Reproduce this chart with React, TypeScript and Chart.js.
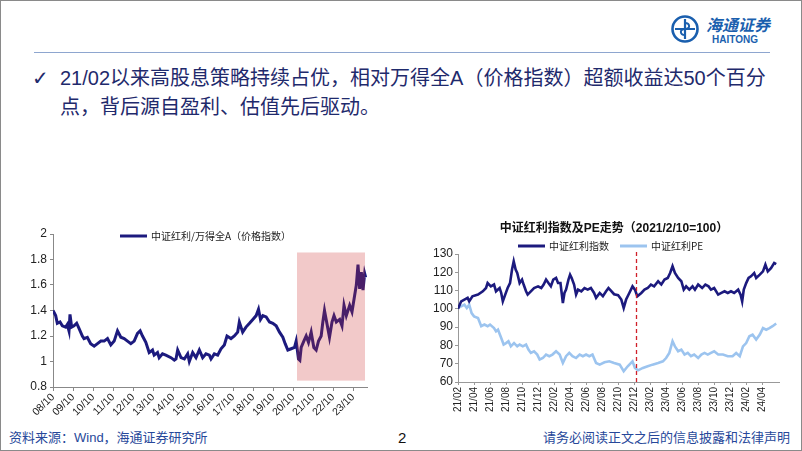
import React, { useEffect, useRef } from "react";
import { Chart, registerables } from "chart.js";
Chart.register(...registerables);

// ---------- Left chart data: 中证红利/万得全A（价格指数） ----------
// x = months since 2008/10
const leftMonths = [0,1.6,2.6,4.2,5.6,7.6,8.6,9.6,10.2,11.2,12.6,14.2,15.6,17.6,18.6,20.6,22.6,24.7,26.7,28.7,30.7,32.7,34.7,36.7,38.7,40.7,42.7,44.7,46.7,48.7,50.7,52.3,53.7,55.7,57.7,59.7,60.7,62.7,63.7,65.7,67.7,70.8,72.8,73.8,74.8,76.8,78.8,80.8,81.8,83.8,85.8,87.8,89.8,91.8,93.8,94.8,96.8,98.8,100.8,102.8,104.4,106.8,108.8,110.8,111.8,113.8,115.8,117.9,119.9,121.9,123.3,124.5,125.9,127.9,129.9,131.9,133.9,135.9,137.9,139.3,140.9,142.9,144.9,145.9,147.3,148.1,148.9,150.5,151.9,153.3,154.9,156.5,157.9,159.3,160.9,161.9,162.9,163.9,164.9,165.9,167.4,168.6,170.0,172.0,173.4,174.6,176.0,178.0,179.4,181.0,182.0,183.0,184.0,185.0,186.0,187.0,187.6];
const leftValues = [1.40,1.36,1.30,1.31,1.28,1.27,1.29,1.24,1.37,1.27,1.28,1.30,1.26,1.20,1.18,1.19,1.14,1.12,1.14,1.16,1.16,1.18,1.13,1.16,1.24,1.19,1.18,1.16,1.14,1.16,1.22,1.24,1.20,1.15,1.07,1.09,1.05,1.07,1.03,1.06,1.05,1.03,1.01,1.02,1.09,1.03,1.02,1.06,1.00,1.07,1.03,1.09,1.03,1.06,1.05,1.02,1.06,1.05,1.10,1.13,1.20,1.18,1.20,1.23,1.31,1.23,1.27,1.30,1.33,1.36,1.41,1.33,1.36,1.35,1.31,1.30,1.28,1.23,1.19,1.14,1.09,1.10,1.11,1.16,1.02,1.01,1.11,1.16,1.20,1.15,1.23,1.11,1.09,1.16,1.20,1.31,1.40,1.33,1.26,1.19,1.31,1.36,1.31,1.33,1.28,1.44,1.36,1.44,1.39,1.52,1.60,1.76,1.57,1.70,1.56,1.69,1.66];
const leftLabel = "中证红利/万得全A（价格指数）";
const leftXTickMonths = [0,12,24,36,48,60,72,84,96,108,120,132,144,156,168,180];
const leftXTickLabels = ["08/10","09/10","10/10","11/10","12/10","13/10","14/10","15/10","16/10","17/10","18/10","19/10","20/10","21/10","22/10","23/10"];
const leftYTicks = [0.8,1,1.2,1.4,1.6,1.8,2];
const leftYTickLabels = ["0.8","1","1.2","1.4","1.6","1.8","2"];
// highlighted period (months since 2008/10, value range)
const highlightFrom = 146.4;
const highlightTo = 187.2;
const highlightLow = 0.85;
const highlightHigh = 1.855;

// ---------- Right chart data: 中证红利指数及PE走势 ----------
// x = months since 2021/02
const idxMonths = [0,0.4,0.8,1.2,1.4,1.8,2.5,3.1,3.5,3.7,4.1,4.5,4.75,5.2,5.4,5.6,5.9,6.2,6.5,6.75,6.96,7.2,7.4,7.7,8.0,8.2,8.5,8.7,9.1,9.5,10.0,10.4,10.7,11.0,11.3,11.6,11.9,12.25,12.5,12.8,13.0,13.1,13.3,13.5,13.8,14.0,14.2,14.5,14.75,15.0,15.4,15.8,16.2,16.6,17.0,17.25,17.7,18.1,18.5,18.8,19.1,19.5,20.0,20.4,20.7,21.0,21.4,21.8,22.1,22.4,22.9,23.3,23.7,24.1,24.5,25.0,25.4,25.8,26.2,26.5,26.8,27.1,27.5,27.9,28.2,28.5,28.9,29.3,29.6,30.0,30.5,30.9,31.3,31.6,32.0,32.5,32.9,33.3,33.7,34.1,34.5,35.0,35.3,35.5,35.7,36.0,36.3,36.6,37.0,37.25,37.7,38.1,38.4,38.7,39.1,39.5,39.75];
const idxValues = [100,104.1,105.1,106.0,104.1,106.9,107.8,109.6,111.4,114.1,112.3,113.3,109.6,111.4,108.7,104.1,107.8,111.4,114.1,121.5,126.0,121.5,119.6,114.1,116.0,113.3,109.6,107.8,109.6,111.4,112.3,111.4,113.3,116.0,114.1,112.3,116.0,116.9,114.1,114.1,106.9,103.2,108.7,110.5,116.0,118.7,116.9,113.3,107.8,110.5,109.6,111.4,110.5,111.4,108.7,106.0,108.7,106.9,109.6,111.4,110.0,108.0,107.5,105.1,100.5,105.1,108.7,112.3,110.5,106.9,108.7,110.5,111.4,113.3,112.3,115.1,113.3,116.0,116.9,119.6,123.3,119.6,116.9,115.1,110.5,112.3,110.5,112.3,110.5,113.3,111.4,113.3,112.3,110.5,111.4,107.8,108.7,109.6,108.7,109.6,108.7,110.5,107.8,104.1,110.5,114.1,116.9,117.8,119.6,116.9,118.7,120.5,124.2,120.5,122.3,125.1,124.5];
const peMonths = [0,0.4,0.8,1.1,1.4,1.7,2.0,2.5,2.9,3.3,3.7,4.0,4.5,4.75,5.0,5.4,5.7,6.0,6.3,6.6,7.0,7.4,7.7,8.1,8.5,8.8,9.1,9.5,9.9,10.2,10.6,11.0,11.4,11.8,12.25,12.7,13.1,13.5,13.9,14.3,14.75,15.2,15.6,16.0,16.4,16.8,17.25,17.7,18.3,18.9,19.5,20.2,20.7,21.2,21.8,22.1,22.5,23.1,23.7,24.3,25.0,25.6,26.0,26.4,26.8,27.1,27.5,27.9,28.3,28.7,29.1,29.5,30.0,30.4,30.8,31.2,31.6,32.0,32.5,33.1,33.7,34.3,34.75,35.2,35.6,36.0,36.4,36.8,37.25,37.7,38.1,38.5,38.9,39.3,39.75];
const peValues = [100.5,101.4,102.3,100.5,102.3,97.7,95.9,95.0,90.5,91.4,90.5,91.4,89.5,87.7,88.6,84.1,80.5,81.3,82.3,79.5,81.3,79.5,80.5,79.5,80.5,77.7,75.9,76.8,75.0,72.3,73.1,75.0,74.1,75.0,76.8,75.0,70.4,74.1,75.9,74.1,73.1,75.0,74.1,75.0,74.1,75.0,70.4,69.5,70.8,71.3,70.4,69.5,65.9,68.6,71.3,67.7,66.4,67.7,68.6,69.5,70.4,71.3,73.1,75.9,82.3,79.5,76.8,77.7,75.0,75.9,74.1,75.0,73.1,75.0,75.9,75.0,75.9,76.8,75.0,75.0,74.1,74.1,75.9,74.1,79.5,81.3,85.0,85.9,83.2,85.9,89.5,88.6,89.5,90.5,92.0];
const idxLabel = "中证红利指数";
const peLabel = "中证红利PE";
const rightTitle = "中证红利指数及PE走势（2021/2/10=100）";
const rightXTickMonths = [0,2,4,6,8,10,12,14,16,18,20,22,24,26,28,30,32,34,36,38];
const rightXTickLabels = ["21/02","21/04","21/06","21/08","21/10","21/12","22/02","22/04","22/06","22/08","22/10","22/12","23/02","23/04","23/06","23/08","23/10","23/12","24/02","24/04"];
const rightYTicks = [60,70,80,90,100,110,120,130];
const markerMonth = 22.25; // dashed marker near 22/12

const NAVY = "#1c1a7e";
const LIGHT = "#9cc4ef";
const TICK_FONT = '"Liberation Sans", Arial, sans-serif';
const CJK_FONT = '"Noto Sans CJK SC", sans-serif';

function toPoints(xs: number[], ys: number[]) {
  const n = Math.min(xs.length, ys.length);
  const out: { x: number; y: number }[] = [];
  for (let i = 0; i < n; i++) out.push({ x: xs[i], y: ys[i] });
  return out;
}

function LeftChart() {
  const ref = useRef<HTMLCanvasElement>(null);
  useEffect(() => {
    const pinkBox = {
      id: "pinkBox",
      afterDatasetsDraw(chart: any) {
        const { ctx, scales } = chart;
        const x0 = scales.x.getPixelForValue(highlightFrom);
        const x1 = scales.x.getPixelForValue(highlightTo);
        const y0 = scales.y.getPixelForValue(highlightHigh);
        const y1 = scales.y.getPixelForValue(highlightLow);
        ctx.save();
        ctx.fillStyle = "rgba(205,45,45,0.26)";
        ctx.fillRect(x0, y0, x1 - x0, y1 - y0);
        ctx.restore();
      },
    };
    const legend = {
      id: "leftLegend",
      afterDraw(chart: any) {
        const { ctx } = chart;
        const ds = chart.data.datasets[0];
        ctx.save();
        ctx.strokeStyle = ds.borderColor;
        ctx.lineWidth = 3;
        ctx.beginPath();
        ctx.moveTo(119, 20);
        ctx.lineTo(146, 20);
        ctx.stroke();
        ctx.fillStyle = "#222";
        ctx.font = `10px ${CJK_FONT}`;
        ctx.textBaseline = "middle";
        ctx.fillText(ds.label, 150, 20);
        ctx.restore();
      },
    };
    const chart = new Chart(ref.current!, {
      type: "line",
      data: {
        datasets: [
          {
            label: leftLabel,
            data: toPoints(leftMonths, leftValues),
            borderColor: NAVY,
            borderWidth: 3,
            pointRadius: 0,
            tension: 0,
            fill: false,
          },
        ],
      },
      options: {
        animation: false,
        responsive: false,
        maintainAspectRatio: false,
        layout: { padding: { top: 18, right: 14, left: 0, bottom: 0 } },
        plugins: { legend: { display: false }, tooltip: { enabled: false }, title: { display: false } },
        scales: {
          x: {
            type: "linear",
            min: 0,
            max: 188.4,
            grid: { drawOnChartArea: false, drawTicks: true, tickLength: 4, color: "#888" },
            border: { display: true, color: "#888", width: 1 },
            ticks: {
              autoSkip: false,
              minRotation: 45,
              maxRotation: 45,
              padding: 0,
              color: "#222",
              font: { family: TICK_FONT, size: 10.5 },
              callback: (_v: any, i: number) => leftXTickLabels[i],
            },
            afterBuildTicks: (s: any) => {
              s.ticks = leftXTickMonths.map((v) => ({ value: v }));
            },
            afterFit: (s: any) => {
              s.height = 34;
            },
          },
          y: {
            type: "linear",
            min: 0.8,
            max: 2,
            grid: { drawOnChartArea: false, drawTicks: true, tickLength: 3, color: "#888" },
            border: { display: true, color: "#888", width: 1 },
            ticks: {
              padding: 3,
              color: "#222",
              font: { family: TICK_FONT, size: 12 },
              callback: (_v: any, i: number) => leftYTickLabels[i],
            },
            afterBuildTicks: (s: any) => {
              s.ticks = leftYTicks.map((v) => ({ value: v }));
            },
            afterFit: (s: any) => {
              s.width = 52;
            },
          },
        },
      },
      plugins: [pinkBox, legend],
    });
    return () => chart.destroy();
  }, []);
  return (
    <canvas
      ref={ref}
      width={380}
      height={205}
      style={{ position: "absolute", left: 0, top: 215, width: 380, height: 205 }}
    />
  );
}

function RightChart() {
  const ref = useRef<HTMLCanvasElement>(null);
  useEffect(() => {
    const marker = {
      id: "marker",
      afterDatasetsDraw(chart: any) {
        const { ctx, scales, chartArea } = chart;
        const x = Math.round(scales.x.getPixelForValue(markerMonth)) + 0.5;
        ctx.save();
        ctx.strokeStyle = "#d0202a";
        ctx.lineWidth = 1.3;
        ctx.setLineDash([4, 3]);
        ctx.beginPath();
        ctx.moveTo(x, chartArea.top - 2);
        ctx.lineTo(x, chartArea.bottom);
        ctx.stroke();
        ctx.restore();
      },
    };
    const header = {
      id: "header",
      afterDraw(chart: any) {
        const { ctx } = chart;
        const ds = chart.data.datasets;
        ctx.save();
        ctx.fillStyle = "#111";
        ctx.font = `bold 12px "Liberation Sans", "Noto Sans CJK SC", sans-serif`;
        ctx.textAlign = "center";
        ctx.textBaseline = "middle";
        ctx.fillText(rightTitle, 193, 18);
        ctx.textAlign = "left";
        ctx.font = `10px ${CJK_FONT}`;
        const items = [
          { x0: 97, x1: 124, tx: 128 },
          { x0: 199, x1: 226, tx: 230 },
        ];
        items.forEach((it, i) => {
          ctx.strokeStyle = ds[i].borderColor;
          ctx.lineWidth = 3;
          ctx.beginPath();
          ctx.moveTo(it.x0, 35);
          ctx.lineTo(it.x1, 35);
          ctx.stroke();
          ctx.fillStyle = "#222";
          ctx.fillText(ds[i].label, it.tx, 35);
        });
        ctx.restore();
      },
    };
    const chart = new Chart(ref.current!, {
      type: "line",
      data: {
        datasets: [
          {
            label: idxLabel,
            data: toPoints(idxMonths, idxValues),
            borderColor: NAVY,
            borderWidth: 2.6,
            pointRadius: 0,
            tension: 0,
            fill: false,
          },
          {
            label: peLabel,
            data: toPoints(peMonths, peValues),
            borderColor: LIGHT,
            borderWidth: 2.6,
            pointRadius: 0,
            tension: 0,
            fill: false,
          },
        ],
      },
      options: {
        animation: false,
        responsive: false,
        maintainAspectRatio: false,
        layout: { padding: { top: 43, right: 24, left: 0, bottom: 0 } },
        plugins: { legend: { display: false }, tooltip: { enabled: false }, title: { display: false } },
        scales: {
          x: {
            type: "linear",
            min: 0,
            max: 40.1,
            grid: { drawOnChartArea: false, drawTicks: true, tickLength: 3, color: "#999" },
            border: { display: true, color: "#999", width: 1 },
            ticks: {
              autoSkip: false,
              minRotation: 90,
              maxRotation: 90,
              padding: 2,
              color: "#222",
              font: { family: TICK_FONT, size: 10 },
              callback: (_v: any, i: number) => rightXTickLabels[i],
            },
            afterBuildTicks: (s: any) => {
              s.ticks = rightXTickMonths.map((v) => ({ value: v }));
            },
            afterFit: (s: any) => {
              s.height = 44;
            },
          },
          y: {
            type: "linear",
            min: 60,
            max: 130,
            grid: { drawOnChartArea: false, drawTicks: true, tickLength: 3, color: "#999" },
            border: { display: true, color: "#999", width: 1 },
            ticks: {
              padding: 2,
              color: "#222",
              font: { family: TICK_FONT, size: 12 },
              callback: (v: any) => String(v),
            },
            afterBuildTicks: (s: any) => {
              s.ticks = rightYTicks.map((v) => ({ value: v }));
            },
            afterFit: (s: any) => {
              s.width = 37;
            },
          },
        },
      },
      plugins: [marker, header],
    });
    return () => chart.destroy();
  }, []);
  return (
    <canvas
      ref={ref}
      width={382}
      height={215}
      style={{ position: "absolute", left: 420, top: 210, width: 382, height: 215 }}
    />
  );
}

const BODY_COLOR = "#1f2a6c";
const LOGO_BLUE = "#1a5fae";
const FOOT_BLUE = "#27489a";
const TEXT_FONT = '"Liberation Sans", "Noto Sans CJK SC", sans-serif';

export default function App() {
  return (
    <div
      style={{
        position: "absolute",
        left: 0,
        top: 0,
        width: 802,
        height: 451,
        boxSizing: "border-box",
        border: "1px solid #8a8a8a",
        background: "#fff",
        overflow: "hidden",
        fontFamily: TEXT_FONT,
      }}
    >
      {/* logo */}
      <svg width={30} height={30} style={{ position: "absolute", left: 669, top: 13 }} viewBox="0 0 30 30">
        <circle cx={15} cy={15} r={12.5} fill="none" stroke={LOGO_BLUE} strokeWidth={2.6} />
        <path d="M15 5 V25 M5 15 H25" stroke={LOGO_BLUE} strokeWidth={2.2} fill="none" />
        <path d="M15 9 C20 9 21 15 15 15 C9 15 10 21 15 21" stroke={LOGO_BLUE} strokeWidth={2} fill="none" />
      </svg>
      <div
        style={{
          position: "absolute",
          left: 705,
          top: 14,
          fontSize: 16,
          fontWeight: 700,
          fontStyle: "italic",
          color: LOGO_BLUE,
          fontFamily: CJK_FONT,
          lineHeight: "18px",
          whiteSpace: "nowrap",
        }}
      >
        海通证券
      </div>
      <div
        style={{
          position: "absolute",
          left: 711,
          top: 33,
          fontSize: 10,
          fontWeight: 700,
          color: LOGO_BLUE,
          fontFamily: TICK_FONT,
          lineHeight: "12px",
        }}
      >
        HAITONG
      </div>
      {/* rule */}
      <div style={{ position: "absolute", left: 33, top: 51, width: 736, height: 1, background: "#8ea6cf" }} />
      {/* bullet text */}
      <div
        style={{
          position: "absolute",
          left: 31,
          top: 63,
          fontSize: 20,
          lineHeight: "29px",
          color: BODY_COLOR,
          whiteSpace: "nowrap",
          fontFamily: '"DejaVu Sans", sans-serif',
        }}
      >
        ✓
      </div>
      <div
        style={{
          position: "absolute",
          left: 59,
          top: 63,
          fontSize: 20,
          lineHeight: "29px",
          color: BODY_COLOR,
          whiteSpace: "nowrap",
        }}
      >
        21/02以来高股息策略持续占优，相对万得全A（价格指数）超额收益达50个百分
        <br />
        点，背后源自盈利、估值先后驱动。
      </div>
      <LeftChart />
      <RightChart />
      {/* footer */}
      <div
        style={{
          position: "absolute",
          left: 8,
          top: 429,
          fontSize: 13,
          lineHeight: "16px",
          color: FOOT_BLUE,
          whiteSpace: "nowrap",
        }}
      >
        资料来源：Wind，海通证券研究所
      </div>
      <div
        style={{
          position: "absolute",
          left: 397,
          top: 429,
          fontSize: 15,
          lineHeight: "16px",
          color: "#111",
          fontFamily: TICK_FONT,
        }}
      >
        2
      </div>
      <div
        style={{
          position: "absolute",
          left: 542,
          top: 429,
          fontSize: 13,
          lineHeight: "16px",
          color: FOOT_BLUE,
          whiteSpace: "nowrap",
        }}
      >
        请务必阅读正文之后的信息披露和法律声明
      </div>
    </div>
  );
}
